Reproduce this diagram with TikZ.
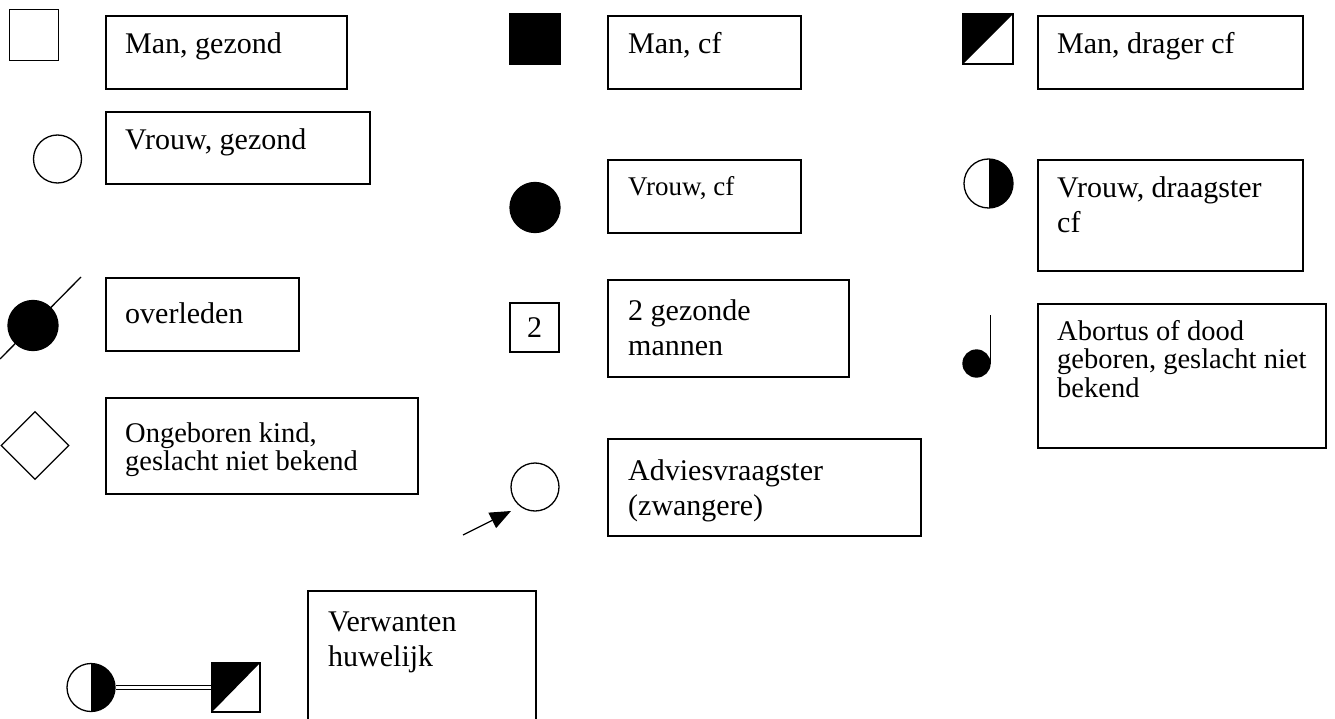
\documentclass[tikz,border=0pt]{standalone}
\usepackage{fontspec}
\setmainfont{Liberation Serif}
\usetikzlibrary{arrows.meta,shapes.geometric}
\tikzset{
  sym/.style={draw, line width=1.3pt, inner sep=0pt, fill=white},
  mansym/.style={sym, rectangle, minimum size=49pt},
  womsym/.style={sym, circle, minimum size=48pt},
  affected/.style={fill=black},
  halfsq/.style={path picture={\fill[black] (path picture bounding box.south west) -- (path picture bounding box.north west) -- (path picture bounding box.north east) -- cycle;}},
  halfci/.style={path picture={\fill[black] (path picture bounding box.north) rectangle (path picture bounding box.south east);}},
  legbox/.style={draw, line width=1.6pt, rectangle, anchor=north west, inner sep=0pt, fill=white},
  legtxt/.style={anchor=base west, inner sep=0pt, font=\fontsize{30}{35}\selectfont},
  smalltxt/.style={legtxt, font=\fontsize{28.5}{28.5}\selectfont},
}
\begin{document}
\begin{tikzpicture}[x=1pt,y=-1pt]
\useasboundingbox (0,0) rectangle (1335,719);

% left column
\node[mansym, minimum height=51pt] (mgsym) at (34,35) {};
\node[legbox, minimum width=241pt, minimum height=73pt] (mgbox) at (105,15) {};
\node[legtxt] (mgtxt) at (125,54) {Man, gezond};

\node[womsym] (vgsym) at (57.5,159) {};
\node[legbox, minimum width=264pt, minimum height=72pt] (vgbox) at (105,111) {};
\node[legtxt] (vgtxt) at (125,150) {Vrouw, gezond};

\node[womsym, affected, minimum size=50pt] (odsym) at (33,325.5) {};
\coordinate (odlow) at ([shift={(-33pt,-33.5pt)}]odsym.center);
\coordinate (odhigh) at ([shift={(48pt,48.5pt)}]odsym.center);
\draw[line width=1.3pt] (odlow) -- (odhigh);
\node[legbox, minimum width=193pt, minimum height=73pt] (odbox) at (105,277) {};
\node[legtxt] (odtxt) at (125,323) {overleden};

\node[sym, diamond, minimum width=68pt, minimum height=68pt] (obsym) at (35,445.5) {};
\node[legbox, minimum width=312pt, minimum height=96pt] (obbox) at (105,397) {};
\node[smalltxt] (obtxt) at (125,442) {\vtop{\hbox{Ongeboren kind,}\hbox{geslacht niet bekend}}};

% middle column
\node[mansym, affected, minimum size=50pt] (mcsym) at (535,39) {};
\node[legbox, minimum width=193pt, minimum height=73pt] (mcbox) at (607,15) {};
\node[legtxt] (mctxt) at (628,54) {Man, cf};

\node[womsym, affected, minimum size=50pt] (vcsym) at (535,207.5) {};
\node[legbox, minimum width=193pt, minimum height=73pt] (vcbox) at (607,159) {};
\node[legtxt, font=\fontsize{27}{32}\selectfont] (vctxt) at (628,196) {Vrouw, cf};

\node[mansym, font=\fontsize{30}{35}\selectfont] (twsym) at (534.5,327.5) {2};
\node[legbox, minimum width=241pt, minimum height=97pt] (twbox) at (607,279) {};
\node[legtxt] (twtxt) at (628,320) {\vtop{\hbox{2 gezonde}\hbox{mannen}}};

\node[womsym] (avsym) at (535,487) {};
\coordinate (avtail) at (463,535);
\coordinate (avtip) at ([shift={(-24pt,-24pt)}]avsym.center);
\draw[line width=1.3pt, -{Triangle[length=21pt, width=17pt]}] (avtail) -- (avtip);
\node[legbox, minimum width=313pt, minimum height=97pt] (avbox) at (607,438) {};
\node[legtxt] (avtxt) at (628,480) {\vtop{\hbox{Adviesvraagster}\hbox{(zwangere)}}};

% right column
\node[mansym, halfsq, minimum size=50pt] (mdsym) at (988,39) {};
\node[legbox, minimum width=265pt, minimum height=73pt] (mdbox) at (1037,15) {};
\node[legtxt] (mdtxt) at (1057,54) {Man, drager cf};

\node[womsym, halfci, minimum size=49pt] (vdsym) at (988.5,183.5) {};
\node[legbox, minimum width=265pt, minimum height=111pt] (vdbox) at (1037,159) {};
\node[legtxt] (vdtxt) at (1057,198) {\vtop{\hbox{Vrouw, draagster}\hbox{cf}}};

\node[sym, circle, affected, minimum size=27pt] (absym) at (976.5,363.5) {};
\coordinate (abtop) at ([yshift=49pt]absym.east);
\draw[line width=1.6pt] (absym.east) -- (abtop);
\node[legbox, minimum width=288pt, minimum height=144pt] (abbox) at (1037,303) {};
\node[smalltxt] (abtxt) at (1057,340) {\vtop{\hbox{Abortus of dood}\hbox{geboren, geslacht niet}\hbox{bekend}}};

% bottom row
\node[womsym, halfci] (vwsym) at (91,687.5) {};
\node[mansym, halfsq, minimum width=48pt] (mwsym) at (236,687.5) {};
\draw[double, line width=1.3pt, double distance=2.6pt] (vwsym.east) -- (mwsym.west);
\node[legbox, minimum width=228pt, minimum height=140pt] (vwbox) at (307,590) {};
\node[legtxt] (vwtxt) at (328,631) {\vtop{\hbox{Verwanten}\hbox{huwelijk}}};
\end{tikzpicture}
\end{document}
